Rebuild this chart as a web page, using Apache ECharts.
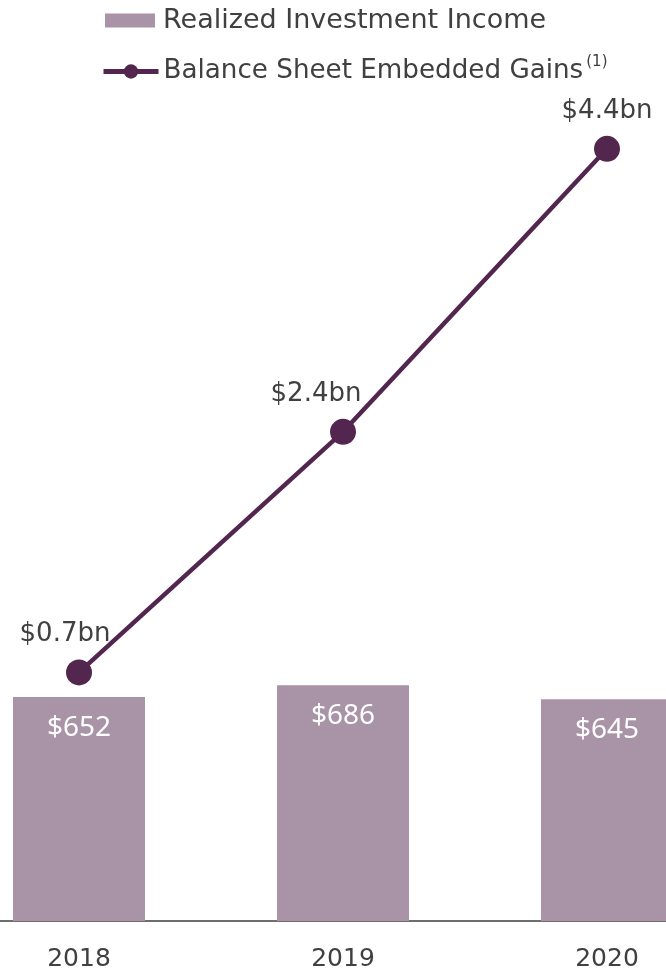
<!DOCTYPE html>
<html><head><meta charset="utf-8">
<script src="https://cdn.jsdelivr.net/npm/echarts@6/dist/echarts.min.js"></script>
<style>html,body{margin:0;padding:0;background:#fff}#c{width:666px;height:970px}</style>
</head><body><div id="c"></div>
<script>
const categories = ['2018', '2019', '2020'];
const realizedIncome = [652, 686, 645];
const embeddedGains = [0.7, 2.4, 4.4];
const incomeLabels = ['$652', '$686', '$645'];
const gainLabels = ['$0.7bn', '$2.4bn', '$4.4bn'];

const chart = echarts.init(document.getElementById('c'));
const txt = '#404040';
const gainOffsets = [[-14, 0], [-27, 0], [0, 0]];
chart.setOption({
  animation: false,
  grid: { left: -53, width: 792, top: 100, bottom: 49, outerBoundsMode: 'none', containLabel: false },
  legend: [
    { data: [{ name: 'Realized Investment Income', icon: 'rect' }], left: 105, top: 7, padding: 0,
      itemWidth: 50, itemHeight: 14, itemGap: 0,
      textStyle: { fontFamily: 'DejaVu Sans', fontSize: 27, color: txt, padding: [0, 0, 0, 3] }, selectedMode: false },
    { data: ['Balance Sheet Embedded Gains'], left: 101, top: 55, padding: 0,
      itemWidth: 55, itemHeight: 18, itemGap: 0,
      selectedMode: false,
      lineStyle: { width: 5 },
      formatter: n => n + '{s|(1)}',
      textStyle: { fontFamily: 'DejaVu Sans', fontSize: 26.2, color: txt, padding: [0, 0, 0, 0],
        rich: { s: { fontSize: 15, verticalAlign: 'top', padding: [0, 0, 18, 3], color: txt, fontFamily: 'DejaVu Sans' } } } }
  ],
  xAxis: {
    type: 'category', data: categories,
    axisTick: { show: false },
    axisLine: { lineStyle: { color: '#6e6e6e', width: 2 } },
    axisLabel: { fontFamily: 'DejaVu Sans', fontSize: 25, color: txt, margin: 26 }
  },
  yAxis: [
    { type: 'value', min: 0, max: 2389, show: false, splitLine: { show: false } },
    { type: 'value', min: -1.057, max: 4.745, show: false, splitLine: { show: false } }
  ],
  series: [
    { name: 'Realized Investment Income', type: 'bar', yAxisIndex: 0, barWidth: 132,
      itemStyle: { color: '#a993a7' },
      data: realizedIncome,
      label: { show: true, position: 'insideTop', distance: 17, color: '#fff',
        fontFamily: 'Noto Sans', fontSize: 28,
        formatter: p => incomeLabels[p.dataIndex] } },
    { name: 'Balance Sheet Embedded Gains', type: 'line', yAxisIndex: 1,
      symbol: 'circle', symbolSize: 26,
      lineStyle: { color: '#52264f', width: 4.5 },
      itemStyle: { color: '#52264f' },
      data: embeddedGains.map((v, i) => ({ value: v, label: { offset: gainOffsets[i] } })),
      label: { show: true, position: 'top', distance: 12, color: txt,
        fontFamily: 'DejaVu Sans', fontSize: 26,
        formatter: p => gainLabels[p.dataIndex] } }
  ]
});
</script></body></html>
